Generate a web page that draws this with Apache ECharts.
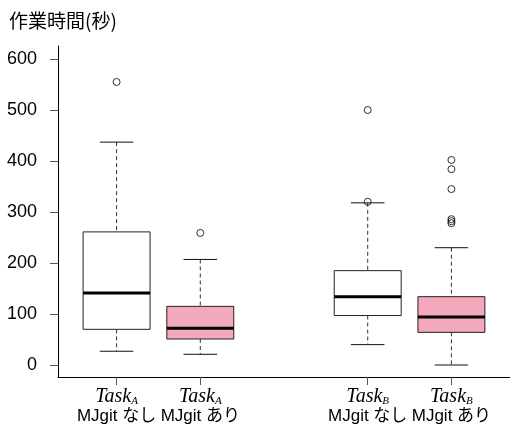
<!DOCTYPE html>
<html><head><meta charset="utf-8">
<script src="https://cdn.jsdelivr.net/npm/echarts@6/dist/echarts.min.js"></script>
<style>html,body{margin:0;padding:0;background:#fff}#c{width:510px;height:430px}</style>
</head><body><div id="c"></div>
<script>
const positions = [1, 2, 4, 5];
const taskLabels = ['A', 'A', 'B', 'B'];
const groupLabels = ['MJgit なし', 'MJgit あり', 'MJgit なし', 'MJgit あり'];
const lowerWhisker = [27, 21, 40, 0];
const q1 = [70, 51, 97, 64];
const median = [141, 72, 134, 94];
const q3 = [261, 115, 185, 134];
const upperWhisker = [437, 207, 318, 230];
const boxColors = ['#ffffff', '#f4a8bb', '#ffffff', '#f4a8bb'];
const outlierPos = [1, 2, 4, 4, 5, 5, 5, 5, 5, 5];
const outlierVal = [555, 259, 500, 320, 402, 384, 345, 286, 282, 278];
const yTicks = [0, 100, 200, 300, 400, 500, 600];
const yTitle = '作業時間(秒)';

const cjk = '"Noto Sans CJK JP", "Noto Sans", sans-serif';
const mixed = '"Liberation Sans", "Noto Sans CJK JP", sans-serif';
const boxData = positions.map((p, i) => [p, lowerWhisker[i], q1[i], median[i], q3[i], upperWhisker[i], i]);
const outData = outlierPos.map((p, i) => [p, outlierVal[i]]);

function renderBox(params, api) {
  const x = api.value(0);
  const lw = api.value(1), a = api.value(2), m = api.value(3), b = api.value(4), uw = api.value(5);
  const idx = api.value(6);
  const hw = 0.4, cw = 0.2;
  const tl = api.coord([x - hw, b]);
  const br = api.coord([x + hw, a]);
  const mL = api.coord([x - hw, m]), mR = api.coord([x + hw, m]);
  const cU = api.coord([x, uw]), cB = api.coord([x, b]), cA = api.coord([x, a]), cL = api.coord([x, lw]);
  const uL = api.coord([x - cw, uw]), uR = api.coord([x + cw, uw]);
  const lL = api.coord([x - cw, lw]), lR = api.coord([x + cw, lw]);
  const dash = { stroke: '#333', lineWidth: 1, lineDash: [4, 3] };
  const solid = { stroke: '#111', lineWidth: 1 };
  return {
    type: 'group',
    children: [
      { type: 'line', shape: { x1: cU[0], y1: cU[1], x2: cB[0], y2: cB[1] }, style: dash },
      { type: 'line', shape: { x1: cA[0], y1: cA[1], x2: cL[0], y2: cL[1] }, style: dash },
      { type: 'line', shape: { x1: uL[0], y1: uL[1], x2: uR[0], y2: uR[1] }, style: solid },
      { type: 'line', shape: { x1: lL[0], y1: lL[1], x2: lR[0], y2: lR[1] }, style: solid },
      { type: 'rect', shape: { x: tl[0], y: tl[1], width: br[0] - tl[0], height: br[1] - tl[1] },
        style: { fill: boxColors[idx], stroke: '#222', lineWidth: 1 } },
      { type: 'line', shape: { x1: mL[0], y1: mL[1], x2: mR[0], y2: mR[1] }, style: { stroke: '#000', lineWidth: 3 } }
    ]
  };
}

const chart = echarts.init(document.getElementById('c'), null, { renderer: 'canvas' });
chart.setOption({
  animation: false,
  backgroundColor: '#fff',
  title: {
    text: yTitle, left: 9, top: 11, padding: 0,
    textStyle: { fontSize: 19, fontWeight: 'normal', fontFamily: cjk, color: '#000' }
  },
  grid: { left: 58, top: 46, width: 454, height: 331, containLabel: false },
  xAxis: {
    type: 'value', min: 0.3, max: 5.7,
    splitLine: { show: false },
    axisLine: { onZero: false, lineStyle: { color: '#000', width: 1 } },
    axisTick: { show: true, length: 8, lineStyle: { color: '#555' }, customValues: positions },
    axisLabel: {
      show: true, margin: 13, customValues: positions,
      formatter: function (v) {
        const i = positions.indexOf(v);
        if (i < 0) return '';
        return '{t|Task}{s|' + taskLabels[i] + '}\n{m|' + groupLabels[i] + '}';
      },
      rich: {
        t: { fontFamily: '"Liberation Serif", serif', fontStyle: 'italic', fontSize: 20, color: '#000', lineHeight: 17, verticalAlign: 'bottom' },
        s: { fontFamily: '"Liberation Serif", serif', fontStyle: 'italic', fontSize: 11, color: '#000', lineHeight: 4, verticalAlign: 'bottom' },
        m: { fontFamily: mixed, fontSize: 17, color: '#000', lineHeight: 18 }
      }
    }
  },
  yAxis: {
    type: 'value', min: -23.5, max: 625.5,
    splitLine: { show: false },
    axisLine: { show: true, lineStyle: { color: '#000', width: 1 } },
    axisTick: { show: true, length: 8, lineStyle: { color: '#555' }, customValues: yTicks },
    axisLabel: { show: true, margin: 21, customValues: yTicks, fontSize: 18, fontFamily: '"Liberation Sans", Arial, sans-serif', color: '#000', padding: [3, 0, 0, 0] }
  },
  series: [
    { type: 'custom', renderItem: renderBox, data: boxData, silent: true, z: 2 },
    { type: 'scatter', data: outData, symbol: 'circle', symbolSize: 7, silent: true, z: 3,
      itemStyle: { color: 'rgba(0,0,0,0)', borderColor: '#000', borderWidth: 1 } }
  ]
});
</script>
</body></html>
